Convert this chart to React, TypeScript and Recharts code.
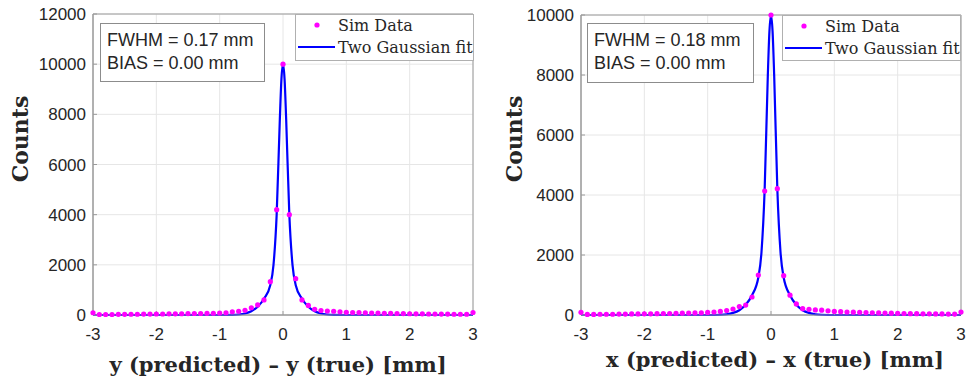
import {
    ComposedChart,
    Line,
    Scatter,
    XAxis,
    YAxis,
    CartesianGrid,
    ReferenceArea,
} from "recharts";

// bin centres of the simulated histograms (mm)
const simX = [
    -3.0, -2.9, -2.8, -2.7, -2.6, -2.5, -2.4, -2.3, -2.2, -2.1,
    -2.0, -1.9, -1.8, -1.7, -1.6, -1.5, -1.4, -1.3, -1.2, -1.1,
    -1.0, -0.9, -0.8, -0.7, -0.6, -0.5, -0.4, -0.3, -0.2, -0.1,
    0.0,
    0.1, 0.2, 0.3, 0.4, 0.5, 0.6, 0.7, 0.8, 0.9, 1.0,
    1.1, 1.2, 1.3, 1.4, 1.5, 1.6, 1.7, 1.8, 1.9, 2.0,
    2.1, 2.2, 2.3, 2.4, 2.5, 2.6, 2.7, 2.8, 2.9, 3.0,
];

// y residual counts (left panel)
const simY = [
    90, 20, 20, 20, 25, 25, 30, 30, 35, 35,
    40, 40, 45, 45, 50, 55, 60, 60, 65, 70,
    80, 90, 130, 150, 190, 290, 400, 600, 1330, 4200,
    10000,
    4000, 1450, 600, 380, 230, 180, 160, 150, 130, 110,
    100, 95, 90, 80, 75, 70, 65, 60, 55, 50,
    45, 45, 40, 40, 35, 35, 30, 30, 30, 100,
];

// x residual counts (right panel)
const simXres = [
    90, 20, 20, 25, 25, 25, 30, 30, 35, 35,
    40, 40, 45, 50, 50, 55, 60, 65, 70, 75,
    85, 100, 120, 150, 200, 280, 330, 600, 1330, 4130,
    10000,
    4210, 1310, 660, 370, 210, 190, 170, 160, 140, 120,
    110, 100, 95, 90, 80, 75, 70, 65, 60, 55,
    50, 45, 45, 40, 40, 35, 35, 30, 30, 100,
];

// points
const fitX = [-3, -1, -0.8, -0.7, -0.6, -0.5, -0.4, -0.3, -0.2, -0.15, -0.1, -0.05, -0.025, 0,
    0.025, 0.05, 0.1, 0.15, 0.2, 0.3, 0.4, 0.5, 0.6, 0.7, 0.8, 1, 3];
const fitY = [0, 0, 5, 20, 60, 150, 330, 650, 1200, 2000, 4000, 7800, 9400, 10000,
    9400, 7800, 4000, 2000, 1200, 650, 330, 150, 60, 20, 5, 0, 0];
const fitXres = [0, 0, 8, 25, 70, 160, 340, 660, 1250, 2100, 4200, 8000, 9450, 10000,
    9450, 8000, 4200, 2100, 1250, 660, 340, 160, 70, 25, 8, 0, 0];

const xTicks = [-3, -2, -1, 0, 1, 2, 3];
const yTicksLeft = [0, 2000, 4000, 6000, 8000, 10000, 12000];
const yTicksRight = [0, 2000, 4000, 6000, 8000, 10000];

const toPoints = (xs: number[], ys: number[]) => xs.map((x, i) => ({ x, y: ys[i] }));

const TEXT = "#262626";
const SANS = "'Liberation Sans', Arial, sans-serif";
const SERIF = "'DejaVu Serif', serif";

type PanelProps = {
    left: number;
    sim: { x: number; y: number }[];
    fit: { x: number; y: number }[];
    yMax: number;
    yTicks: number[];
    axisWidth: number;
    top: number;
    right: number;
    xLabel: string;
    xLabelDx: number;
    xLabelY: number;
    countsX: number;
    fwhm: string;
    box: { x: number; y: number; w: number; h: number };
    legend: { x: number; y: number; w: number; h: number };
};

function Panel(p: PanelProps) {
    return (
        <div style={{ position: "absolute", left: p.left, top: 0, width: 483, height: 381 }}>
            <ComposedChart
                width={483}
                height={381}
                margin={{ top: p.top, right: p.right, bottom: 0, left: 0 }}
            >
                <CartesianGrid stroke="#e6e6e6" />
                <XAxis
                    type="number"
                    dataKey="x"
                    domain={[-3, 3]}
                    ticks={xTicks}
                    height={66}
                    tickSize={-4}
                    tickMargin={17}
                    stroke="#9a9a9a"
                    tick={{ fill: TEXT, fontSize: 17, fontFamily: SANS }}
                    label={{
                        content: (props: any) => {
                            const vb = props.viewBox;
                            return (
                                <text
                                    x={vb.x + vb.width / 2 + p.xLabelDx}
                                    y={p.xLabelY}
                                    textAnchor="middle"
                                    dominantBaseline="central"
                                    fill={TEXT}
                                    fontFamily={SERIF}
                                    fontWeight="bold"
                                    fontSize={21}
                                >
                                    {p.xLabel}
                                </text>
                            );
                        },
                    }}
                />
                <YAxis
                    type="number"
                    domain={[0, p.yMax]}
                    ticks={p.yTicks}
                    width={p.axisWidth}
                    tickSize={-4}
                    tickMargin={11}
                    stroke="#9a9a9a"
                    tick={{ fill: TEXT, fontSize: 17, fontFamily: SANS }}
                    label={{
                        content: () => (
                            <text
                                x={p.countsX}
                                y={139}
                                transform={`rotate(-90 ${p.countsX} 139)`}
                                textAnchor="middle"
                                dominantBaseline="central"
                                fill={TEXT}
                                fontFamily={SERIF}
                                fontWeight="bold"
                                fontSize={22}
                            >
                                Counts
                            </text>
                        ),
                    }}
                />
                <ReferenceArea
                    x1={-3}
                    x2={3}
                    y1={0}
                    y2={p.yMax}
                    fill="none"
                    stroke="#9a9a9a"
                    strokeOpacity={1}
                />
                <Line
                    data={p.fit}
                    dataKey="y"
                    type="monotone"
                    stroke="#0000ff"
                    strokeWidth={2.2}
                    dot={false}
                    isAnimationActive={false}
                />
                <Scatter
                    data={p.sim}
                    dataKey="y"
                    fill="#ff00ff"
                    isAnimationActive={false}
                    shape={(s: any) => <circle cx={s.cx} cy={s.cy} r={2.6} fill="#ff00ff" />}
                />
            </ComposedChart>

            {/* FWHM / BIAS annotation */}
            <div
                style={{
                    position: "absolute",
                    left: p.box.x,
                    top: p.box.y,
                    width: p.box.w,
                    height: p.box.h,
                    boxSizing: "border-box",
                    border: "1.5px solid #8c8c8c",
                    background: "#fff",
                    fontFamily: SANS,
                    fontSize: 18,
                    color: TEXT,
                    padding: "5px 0 0 6px",
                    lineHeight: "23px",
                }}
            >
                <div>{p.fwhm}</div>
                <div>BIAS = 0.00 mm</div>
            </div>

            {/* legend */}
            <div
                style={{
                    position: "absolute",
                    left: p.legend.x,
                    top: p.legend.y,
                    width: p.legend.w,
                    height: p.legend.h,
                    boxSizing: "border-box",
                    border: "1px solid #b0b0b0",
                    background: "#fff",
                }}
            >
                <svg width={p.legend.w} height={p.legend.h} style={{ position: "absolute", left: -1, top: -1 }}>
                    <circle cx={22} cy={11} r={2.6} fill="#ff00ff" />
                    <text x={43} y={11} dominantBaseline="central" fontFamily={SERIF} fontSize={16} fill={TEXT}>
                        Sim Data
                    </text>
                    <line x1={3} x2={40} y1={33} y2={33} stroke="#0000ff" strokeWidth={2.2} />
                    <text x={43} y={33} dominantBaseline="central" fontFamily={SERIF} fontSize={16} fill={TEXT}>
                        Two Gaussian fit
                    </text>
                </svg>
            </div>
        </div>
    );
}

export default function App() {
    return (
        <div style={{ position: "absolute", left: 0, top: 0, width: 966, height: 381, background: "#fff" }}>
            <Panel
                left={0}
                sim={toPoints(simX, simY)}
                fit={toPoints(fitX, fitY)}
                yMax={12000}
                yTicks={yTicksLeft}
                axisWidth={93}
                top={14}
                right={10}
                xLabel="y (predicted) – y (true) [mm]"
                xLabelDx={-5}
                xLabelY={364}
                countsX={20}
                fwhm="FWHM = 0.17 mm"
                box={{ x: 100, y: 23, w: 165, h: 59 }}
                legend={{ x: 295, y: 14, w: 179, h: 47 }}
            />
            <Panel
                left={483}
                sim={toPoints(simX, simXres)}
                fit={toPoints(fitX, fitXres)}
                yMax={10000}
                yTicks={yTicksRight}
                axisWidth={98}
                top={15}
                right={5}
                xLabel="x (predicted) – x (true) [mm]"
                xLabelDx={4}
                xLabelY={359}
                countsX={31}
                fwhm="FWHM = 0.18 mm"
                box={{ x: 104, y: 23, w: 167, h: 60 }}
                legend={{ x: 299, y: 15, w: 179, h: 46 }}
            />
        </div>
    );
}
